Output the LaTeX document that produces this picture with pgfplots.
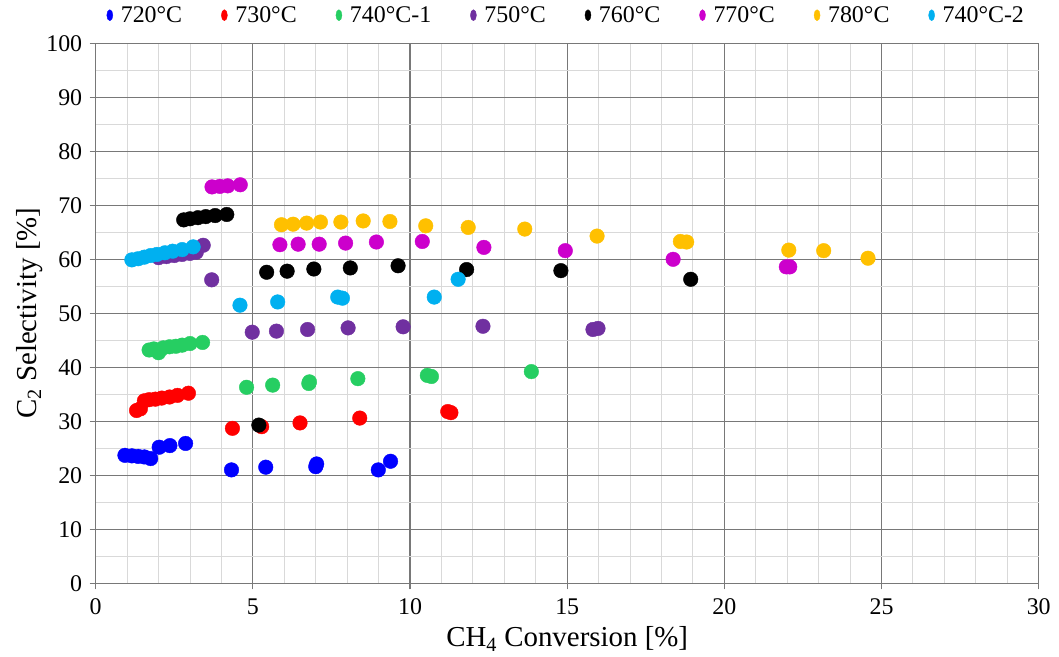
\documentclass[border=0pt]{standalone}
\usepackage{fontspec}
\setmainfont{Liberation Serif}
\usepackage{pgfplots}
\pgfplotsset{compat=1.18}
\definecolor{c720}{RGB}{0,0,255}
\definecolor{c730}{RGB}{255,0,0}
\definecolor{c740a}{RGB}{38,206,98}
\definecolor{c750}{RGB}{112,48,160}
\definecolor{c760}{RGB}{0,0,0}
\definecolor{c770}{RGB}{204,0,204}
\definecolor{c780}{RGB}{255,192,0}
\definecolor{c740b}{RGB}{0,176,240}
\definecolor{majgrid}{RGB}{120,120,120}
\definecolor{mingrid}{RGB}{217,217,217}
\begin{document}
\begin{tikzpicture}
\path[use as bounding box] (-95.7bp,-73.7bp) rectangle (963.3bp,583.3bp);
\begin{axis}[
  scale only axis,
  width=943bp, height=540bp,
  xmin=0, xmax=30, ymin=0, ymax=100,
  xtick={0,5,...,30}, ytick={0,10,...,100},
  minor x tick num=4, minor y tick num=1,
  grid=both,
  major grid style={draw=majgrid, line width=1.2bp},
  minor grid style={draw=mingrid, line width=1bp},
  axis lines*=left,
  axis line style={draw=majgrid, line width=1.2bp},
  tick align=outside,
  major tick length=6bp, minor tick length=0bp,
  tick style={draw=majgrid, line width=1.2bp},
  /pgf/number format/assume math mode=true,
  ticklabel style={font=\fontsize{24}{28}\selectfont},
  xticklabel style={yshift=-6bp},
  yticklabel style={xshift=-4bp},
  xlabel={CH\textsubscript{4} Conversion [\%]},
  ylabel={C\textsubscript{2} Selectivity [\%]},
  label style={font=\fontsize{29}{33}\selectfont},
  xlabel style={yshift=-5bp},
  ylabel style={yshift=-3bp},
  legend columns=-1,
  legend image code/.code={\path[fill] (0bp,0bp) ellipse (3bp and 5.5bp);\path[draw=none,fill=none] (-3bp,0bp) -- (9bp,0bp);},
  legend style={draw=none, fill=none, at={(0.0082,1.052)}, anchor=west,
    font=\fontsize{24}{28}\selectfont,
    /tikz/every even column/.append style={column sep=37bp}},
  every axis plot/.append style={only marks, mark=*, mark size=7.3bp, mark options={draw=none}},
]
\addplot[color=c720] coordinates {(0.93,23.7)(1.15,23.6)(1.35,23.5)(1.55,23.4)(1.75,23.1)(2.02,25.2)(2.36,25.5)(2.86,25.9)(4.32,21.0)(5.41,21.5)(7.0,21.6)(7.03,22.1)(8.99,21.0)(9.38,22.6)};
\addlegendentry{720°C}
\addplot[color=c730] coordinates {(1.3,32.0)(1.42,32.3)(1.55,33.8)(1.7,34.0)(1.9,34.1)(2.1,34.3)(2.35,34.5)(2.6,34.8)(2.95,35.2)(4.35,28.7)(5.28,29.0)(6.5,29.7)(8.4,30.6)(11.2,31.8)(11.3,31.6)};
\addlegendentry{730°C}
\addplot[color=c740a] coordinates {(1.7,43.2)(1.85,43.4)(2.0,42.7)(2.15,43.6)(2.35,43.8)(2.55,43.9)(2.75,44.1)(3.0,44.4)(3.4,44.6)(4.8,36.3)(5.63,36.7)(6.78,37.0)(6.8,37.3)(8.34,37.9)(10.55,38.5)(10.68,38.3)(13.86,39.2)};
\addlegendentry{740°C-1}
\addplot[color=c750] coordinates {(2.0,60.3)(2.25,60.5)(2.5,60.7)(2.75,60.9)(3.0,61.1)(3.2,61.3)(3.42,62.6)(3.69,56.2)(4.98,46.5)(5.75,46.7)(6.74,47.0)(8.03,47.3)(9.78,47.5)(12.32,47.6)(15.82,47.0)(15.98,47.2)};
\addlegendentry{750°C}
\addplot[color=c760] coordinates {(2.8,67.3)(3.0,67.5)(3.25,67.7)(3.5,67.9)(3.8,68.1)(4.17,68.3)(5.19,29.3)(5.44,57.6)(6.09,57.8)(6.94,58.2)(8.1,58.4)(9.62,58.8)(11.8,58.1)(14.8,57.9)(18.93,56.3)};
\addlegendentry{760°C}
\addplot[color=c770] coordinates {(3.7,73.4)(3.95,73.5)(4.2,73.6)(4.6,73.8)(5.86,62.7)(6.44,62.8)(7.11,62.8)(7.95,63.0)(8.93,63.2)(10.39,63.3)(12.35,62.2)(14.94,61.6)(18.37,60.0)(21.97,58.6)(22.08,58.6)};
\addlegendentry{770°C}
\addplot[color=c780] coordinates {(5.91,66.4)(6.28,66.5)(6.71,66.7)(7.15,66.9)(7.8,66.9)(8.51,67.1)(9.36,67.0)(10.5,66.2)(11.85,65.9)(13.65,65.6)(15.95,64.3)(18.6,63.3)(18.8,63.2)(22.05,61.7)(23.16,61.6)(24.57,60.2)};
\addlegendentry{780°C}
\addplot[color=c740b] coordinates {(1.15,59.9)(1.35,60.1)(1.55,60.4)(1.75,60.7)(1.95,60.9)(2.2,61.2)(2.45,61.5)(2.75,61.8)(3.1,62.3)(4.59,51.5)(5.79,52.1)(7.7,53.0)(7.85,52.8)(10.77,53.0)(11.53,56.3)};
\addlegendentry{740°C-2}
\end{axis}
\end{tikzpicture}
\end{document}
